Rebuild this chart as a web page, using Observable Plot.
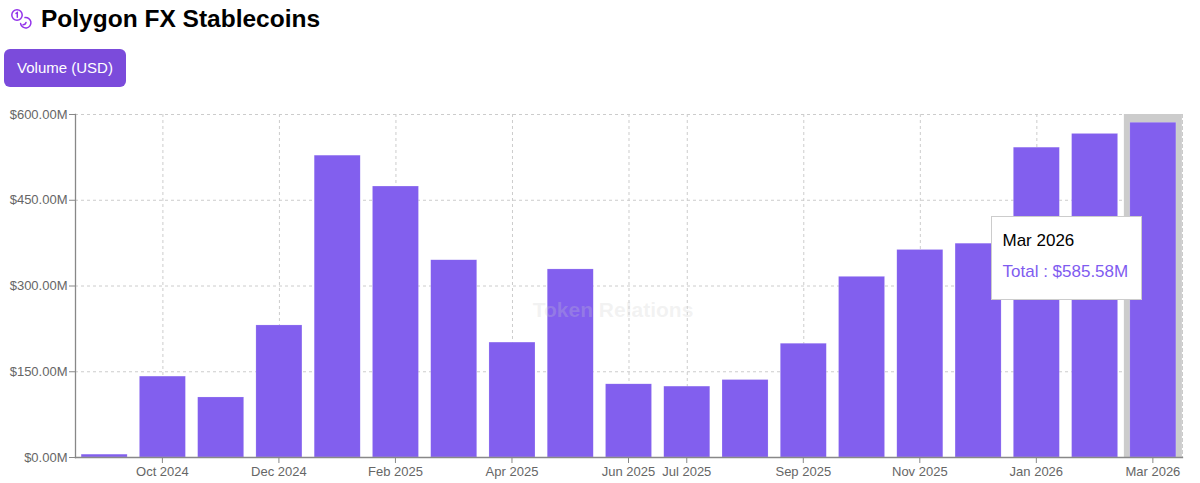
<!DOCTYPE html>
<html>
<head>
<meta charset="utf-8">
<script src="https://cdn.jsdelivr.net/npm/d3@7"></script>
<script src="https://cdn.jsdelivr.net/npm/@observablehq/plot@0.6"></script>
<style>
  html, body { margin: 0; padding: 0; background: #fff; }
  body { width: 1200px; height: 483px; overflow: hidden; position: relative; font-family: "Liberation Sans", Arial, sans-serif; }
  #head { position: relative; height: 100px; }
  #title { position: absolute; left: 41px; top: 2px; font-size: 24.5px; line-height: 34px; font-weight: 700; color: #000; margin: 0; white-space: nowrap; }
  #icon { position: absolute; left: 11px; top: 9px; }
  #btn { position: absolute; left: 4px; top: 49px; width: 122px; height: 38px; box-sizing: border-box; background: #7b4bdb; color: #fff; border-radius: 6px; font-size: 15px; line-height: 38px; text-align: center; }
  #chart { position: absolute; left: 0; top: 100px; }
  #chart svg { display: block; }
  #tip { position: absolute; left: 991px; top: 216px; width: 151px; height: 84px; box-sizing: border-box; background: #fff; border: 1.5px solid #ccc; padding: 12.5px 0 0 10.5px; white-space: nowrap; }
  #tip .a { font-size: 17px; line-height: 22px; color: #000; }
  #tip .b { font-size: 17px; line-height: 22px; color: #7f5cf0; margin-top: 9px; }
</style>
</head>
<body>
<div id="head">
  <svg id="icon" width="22" height="22" viewBox="0 0 22 22" fill="none" stroke="#9333ea" stroke-width="1.5" stroke-linecap="round">
    <circle cx="6" cy="6" r="5.2"></circle>
    <path d="M5 4.4 L6.3 3.6 V8.2"></path>
    <path d="M14 8.6 A5.2 5.2 0 1 1 9.6 14.6"></path>
    <path d="M12 15.8 A3 3 0 0 0 15 13.4"></path>
  </svg>
  <h1 id="title">Polygon FX Stablecoins</h1>
  <div id="btn">Volume (USD)</div>
</div>
<div id="chart"></div>
<div id="tip"><div class="a">Mar 2026</div><div class="b">Total : $585.58M</div></div>
<script>
const months = ["Sep 2024","Oct 2024","Nov 2024","Dec 2024","Jan 2025","Feb 2025","Mar 2025","Apr 2025","May 2025","Jun 2025","Jul 2025","Aug 2025","Sep 2025","Oct 2025","Nov 2025","Dec 2025","Jan 2026","Feb 2026","Mar 2026"];
const volumes = [5,141.5,105,231,528,474,345,201,329,128,124,135.5,199,316,363,374,542,566,585.58];
const xTicks = ["Oct 2024","Dec 2024","Feb 2025","Apr 2025","Jun 2025","Jul 2025","Sep 2025","Nov 2025","Jan 2026","Mar 2026"];
const yTicks = [0,150,300,450,600];
const activeMonth = ["Mar 2026"];
const rows = months.map((m, i) => ({month: m, value: volumes[i]}));
const yMax = 600;
const money = d => "$" + d.toFixed(2) + "M";

const grid = {stroke: "#ccc", strokeOpacity: 1, strokeWidth: 1, strokeDasharray: "3,3"};
const axisColor = "#888";

const plot = Plot.plot({
  width: 1200,
  height: 383,
  marginLeft: 75,
  marginRight: 18,
  marginTop: 14,
  marginBottom: 26,
  style: {fontFamily: "'Liberation Sans', Arial, sans-serif", fontSize: "13px", background: "#fff"},
  x: {type: "band", domain: months, paddingInner: 0.21, paddingOuter: 0.105, round: false, label: null},
  y: {domain: [0, yMax], label: null},
  marks: [
    Plot.gridY(yTicks, grid),
    Plot.gridX(xTicks, grid),
    Plot.frame({anchor: "right", ...grid}),
    Plot.barY(activeMonth.map(m => ({month: m, top: yMax})), {x: "month", y: "top", fill: "#ccc", insetLeft: -6, insetRight: -6}),
    Plot.barY(rows, {x: "month", y: "value", fill: "#825fee", stroke: "#fff", strokeOpacity: 0.35, strokeWidth: 0.5}),
    Plot.frame({anchor: "left", stroke: axisColor, strokeWidth: 1.3}),
    Plot.frame({anchor: "bottom", stroke: axisColor, strokeWidth: 1.3}),
    Plot.axisY({ticks: yTicks, tickFormat: money, label: null, tickSize: 6, tickPadding: 2, stroke: axisColor, fill: "#666", marginLeft: 75}),
    Plot.axisX({ticks: xTicks, label: null, tickSize: 6, tickPadding: 3, stroke: axisColor, fill: "#666", dx: -0.5}),
    Plot.text(["Token Relations"], {frameAnchor: "middle", dx: -16, dy: 24, fill: "#ccc", fillOpacity: 0.25, fontSize: 21, fontWeight: 700})
  ]
});
document.getElementById("chart").appendChild(plot);
</script>
</body>
</html>
